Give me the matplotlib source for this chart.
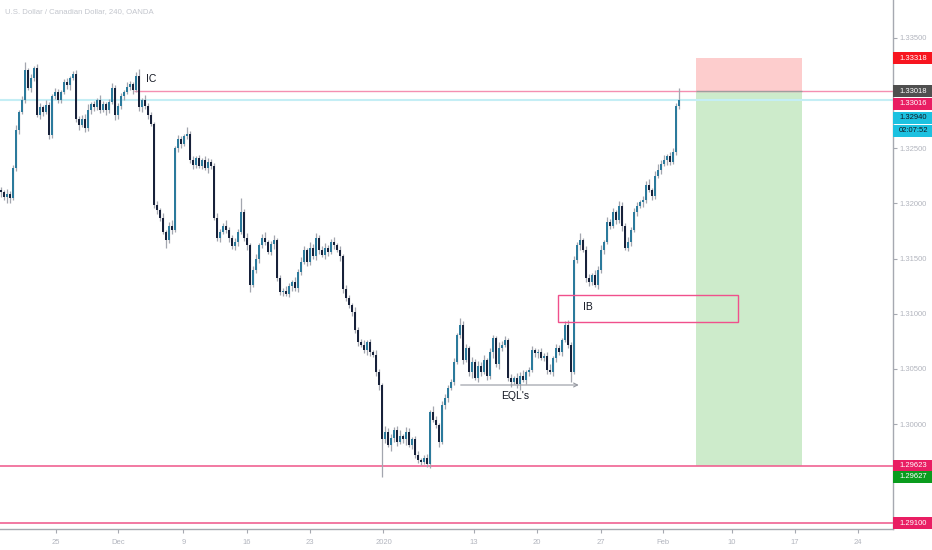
import numpy as np
import matplotlib.pyplot as plt
from matplotlib.patches import Rectangle

# USDCAD 240 (OANDA) - closes in pips (price * 1e4)
first_open = 13212
close = [
    13210, 13206, 13209, 13205, 13232, 13267, 13283, 13294, 13321, 13305,
    13314, 13323, 13280, 13287, 13283, 13289, 13262, 13297, 13301, 13294,
    13301, 13310, 13307, 13314, 13317, 13277, 13271, 13277, 13268, 13285,
    13290, 13287, 13294, 13285, 13290, 13285, 13292, 13305, 13280, 13288,
    13297, 13301, 13306, 13308, 13303, 13316, 13287, 13294, 13288, 13280,
    13272, 13199, 13194, 13187, 13174, 13167, 13180, 13176, 13250, 13258,
    13254, 13261, 13263, 13239, 13235, 13241, 13234, 13239, 13232, 13238,
    13234, 13187, 13169, 13174, 13180, 13176, 13169, 13161, 13165, 13174,
    13192, 13169, 13162, 13126, 13140, 13150, 13162, 13169, 13165, 13156,
    13163, 13167, 13132, 13120, 13121, 13118, 13125, 13129, 13123, 13138,
    13147, 13158, 13147, 13160, 13152, 13169, 13158, 13153, 13160, 13156,
    13165, 13162, 13158, 13152, 13122, 13114, 13108, 13102, 13085, 13074,
    13072, 13067, 13074, 13065, 13063, 13047, 13035, 12986, 12993, 12981,
    12987, 12995, 12984, 12989, 12986, 12993, 12981, 12986, 12972, 12967,
    12966, 12969, 12964, 13011, 13004, 12999, 12984, 13017, 13024, 13033,
    13038, 13056, 13081, 13090, 13058, 13069, 13047, 13056, 13042, 13053,
    13047, 13058, 13044, 13065, 13078, 13054, 13069, 13072, 13076, 13042,
    13038, 13042, 13036, 13044, 13040, 13047, 13049, 13067, 13064, 13065,
    13060, 13062, 13049, 13047, 13060, 13069, 13065, 13076, 13090, 13072,
    13047, 13149, 13162, 13167, 13158, 13132, 13129, 13135, 13126, 13140,
    13158, 13165, 13183, 13180, 13192, 13185, 13198, 13180, 13160, 13165,
    13176, 13192, 13198, 13201, 13203, 13217, 13212, 13207, 13225, 13230,
    13236, 13239, 13243, 13238, 13247, 13288, 13294,
]
# wick length above / below the body, pips
wick_up = [
    3, 2, 4, 2, 3, 4, 2, 3, 7, 2, 3, 2, 3, 4, 2, 5, 3, 2, 4, 3,
    2, 3, 4, 2, 3, 4, 2, 3, 4, 5, 2, 3, 2, 4, 3, 2, 3, 4, 2, 3,
    3, 2, 4, 3, 2, 3, 6, 2, 4, 3, 3, 2, 3, 2, 4, 2, 3, 5, 2, 4,
    3, 2, 6, 3, 4, 2, 3, 2, 4, 3, 2, 3, 4, 3, 2, 5, 3, 2, 4, 3,
    13, 3, 4, 2, 3, 4, 2, 3, 5, 2, 3, 4, 2, 3, 2, 4, 3, 2, 4, 3,
    4, 3, 2, 5, 3, 4, 2, 3, 4, 2, 3, 5, 2, 3, 2, 4, 3, 2, 4, 3,
    3, 4, 2, 3, 2, 4, 3, 2, 5, 3, 4, 2, 3, 6, 2, 4, 3, 2, 3, 4,
    2, 3, 4, 2, 5, 3, 2, 4, 3, 2, 3, 4, 2, 6, 3, 4, 2, 5, 3, 4,
    3, 5, 2, 4, 3, 2, 5, 3, 4, 2, 3, 2, 4, 3, 5, 2, 3, 4, 2, 3,
    4, 2, 3, 5, 2, 4, 3, 2, 3, 4, 2, 3, 3, 6, 2, 3, 4, 2, 5, 3,
    4, 2, 5, 3, 4, 2, 4, 3, 2, 5, 3, 4, 3, 2, 4, 3, 5, 2, 4, 6,
    3, 5, 2, 4, 3, 3, 11,
]
wick_dn = [
    4, 3, 6, 5, 2, 3, 4, 2, 3, 2, 4, 3, 2, 3, 4, 2, 4, 3, 2, 3,
    3, 2, 3, 4, 2, 3, 4, 2, 3, 2, 4, 3, 2, 3, 2, 5, 3, 2, 4, 3,
    2, 3, 2, 3, 4, 2, 3, 4, 2, 3, 2, 3, 4, 3, 2, 7, 3, 4, 2, 3,
    4, 2, 3, 2, 4, 3, 2, 3, 2, 4, 3, 2, 3, 4, 2, 3, 4, 2, 3, 4,
    2, 3, 4, 6, 2, 3, 4, 2, 3, 2, 3, 4, 2, 3, 4, 2, 3, 4, 2, 3,
    3, 2, 4, 3, 2, 3, 4, 2, 3, 4, 2, 3, 2, 4, 3, 2, 3, 4, 2, 3,
    2, 3, 4, 3, 2, 3, 4, 34, 3, 2, 5, 3, 4, 2, 3, 5, 2, 4, 3, 2,
    3, 2, 3, 4, 2, 3, 5, 2, 3, 4, 2, 3, 2, 3, 4, 2, 3, 5, 2, 4,
    3, 2, 4, 3, 5, 2, 4, 3, 2, 3, 4, 2, 3, 5, 2, 4, 3, 2, 3, 4,
    2, 3, 4, 2, 3, 4, 2, 3, 2, 3, 9, 2, 3, 4, 2, 3, 4, 3, 2, 4,
    3, 4, 2, 3, 2, 4, 3, 5, 2, 3, 4, 2, 3, 2, 4, 3, 2, 4, 3, 2,
    3, 2, 4, 3, 2, 3, 2,
]

tick_bars = [18.4, 39, 60.8, 82, 103, 127.5, 157.7, 178.7, 200, 220.7, 243.7, 264.7, 285.7]
tick_labels = ['25', 'Dec', '9', '16', '23', '2020', '13', '20', '27', 'Feb', '10', '17', '24']
axis_prices = [1.300, 1.305, 1.310, 1.315, 1.320, 1.325, 1.335]

# drawings
ic_level = 1.33018
stop_level = 1.33318
target_level = 1.29623
low_level = 1.29100
last_price = 1.32940
ib_top, ib_bot = 1.31170, 1.30925
eql_level = 1.30354

# right-hand price labels: text, where it sits, box colour, text colour
label_text = ['1.33318', '1.33018', '1.33016', '1.32940', '02:07:52', '1.29623', '1.29627', '1.29100']
label_pos = [1.33318, 1.33018, 1.32902, 1.32779, 1.32661, 1.29623, 1.29520, 1.29100]
label_bg = ['#f7151f', '#4f4f4f', '#e91e63', '#1cc1e0', '#1cc1e0', '#e91e63', '#0a9c1e', '#e91e63']
label_fg = ['white', 'white', 'white', '#131722', '#131722', 'white', 'white', 'white']

plt.rcParams['font.family'] = ['Liberation Sans', 'DejaVu Sans']
fig = plt.figure(figsize=(9.32, 5.5), dpi=100)
ax = fig.add_axes([0, 21/550, 893/932, 529/550])

c = np.array(close) / 1e4
o = np.r_[first_open, close[:-1]] / 1e4
hi = np.maximum(o, c) + np.array(wick_up) / 1e4
lo = np.minimum(o, c) - np.array(wick_dn) / 1e4
x = np.arange(len(c))
up = c >= o

# position tool + zones (behind candles)
ax.add_patch(Rectangle((231.7, ic_level), 35.3, stop_level - ic_level, fc='#fdcdcd', ec='none', zorder=0))
ax.add_patch(Rectangle((231.7, target_level), 35.3, ic_level - target_level, fc='#cdebcb', ec='none', zorder=0))
ax.axhline(last_price, color='#c4eef5', lw=1.5, zorder=1)
ax.hlines(ic_level, 44.3, 300, color='#f48fb1', lw=1.0, zorder=1)
ax.hlines(ic_level, 231.7, 267, color='#9e9e9e', lw=0.9, zorder=1.5)
ax.axhline(target_level, color='#f06292', lw=1.2, zorder=1)
ax.axhline(low_level, color='#f06292', lw=1.2, zorder=1)

ax.vlines(x, lo, hi, color='#a3a6af', lw=0.9, zorder=2)
ax.bar(x, np.maximum(np.abs(c - o), 0.00002), bottom=np.minimum(o, c), width=0.8,
       color=np.where(up, '#2b7a9c', '#17213a'), lw=0, zorder=3)

ax.add_patch(Rectangle((185.7, ib_bot), 60, ib_top - ib_bot, fill=False, ec='#f0508c', lw=1, zorder=4))
ax.text(194, 1.31060, 'IB', fontsize=7.5, color='#131722', va='center', zorder=5)
ax.annotate('', xy=(193.5, eql_level), xytext=(152.3, eql_level),
            arrowprops=dict(arrowstyle='->', color='#9598a1', lw=0.8, mutation_scale=7), zorder=4)
ax.text(171.5, 1.30250, "EQL's", fontsize=7.5, color='#131722', ha='center', va='center', zorder=5)
ax.text(48.5, 1.33125, 'IC', fontsize=7.5, color='#131722', va='center', zorder=5)

ax.set_xlim(-0.33, 297.33)
ax.set_ylim(1.290485, 1.338445)

for sp in ['top', 'left']:
    ax.spines[sp].set_visible(False)
for sp in ['right', 'bottom']:
    ax.spines[sp].set_color('#a6a9b1')
    ax.spines[sp].set_linewidth(1)

ax.yaxis.tick_right()
ax.set_yticks(axis_prices, [f'{p:.5f}' for p in axis_prices])
ax.set_xticks(tick_bars, tick_labels)
ax.tick_params(axis='y', length=3, pad=2, labelsize=5.5, color='#a6a9b1', labelcolor='#b2b5be')
ax.tick_params(axis='x', length=3, pad=4, labelsize=5.5, color='#a6a9b1', labelcolor='#b2b5be')

ytr = ax.get_yaxis_transform()
box_h = 12 / 11030
for t, p, bg, fg in zip(label_text, label_pos, label_bg, label_fg):
    ax.add_patch(Rectangle((1.0, p - box_h / 2), 0.05, box_h, transform=ytr,
                           fc=bg, ec='none', clip_on=False, zorder=6))
    ax.text(1.0 + 6/893, p, t, transform=ytr, fontsize=5.5, color=fg,
            va='center', ha='left', clip_on=False, zorder=7)

fig.text(5/932, 1 - 12/550, 'U.S. Dollar / Canadian Dollar, 240, OANDA',
         fontsize=5.6, color='#c3c6cd', va='center')

fig.savefig('out.png', dpi=100)
